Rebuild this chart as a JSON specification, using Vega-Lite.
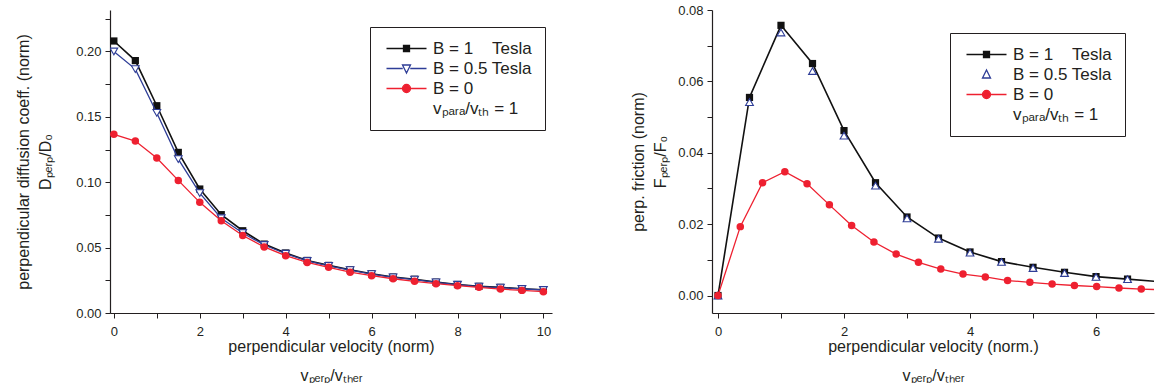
{
  "$schema": "https://vega.github.io/schema/vega-lite/v6.json",
  "padding": {"left": 15, "top": 4, "right": 0, "bottom": 0},
  "background": "white",
  "config": {
    "font": "Liberation Sans",
    "view": {"stroke": null},
    "axis": {"domainColor": "#231f20", "domainWidth": 1.2, "tickColor": "#231f20", "tickWidth": 1, "tickSize": 5, "labelColor": "#231f20", "labelFont": "Liberation Sans", "labelFontSize": 13, "titleFont": "Liberation Sans", "titleFontSize": 16, "titleFontWeight": "normal", "titleColor": "#231f20", "grid": false, "labelFlush": false, "labelOverlap": false, "labelPadding": 4},
    "legend": {"orient": "none", "title": null, "direction": "vertical", "strokeColor": "#231f20", "fillColor": "white", "padding": 13, "symbolSize": 100, "symbolStrokeWidth": 1.3, "symbolOpacity": 1, "labelFont": "Liberation Sans", "labelFontSize": 17, "labelColor": "#231f20", "labelOffset": 33, "labelLimit": 0, "rowPadding": 2}
  },
  "datasets": {
    "left": [
      {"v": 0, "s": "B1", "y": 0.208}, {"v": 0.5, "s": "B1", "y": 0.193}, {"v": 1, "s": "B1", "y": 0.1585}, {"v": 1.5, "s": "B1", "y": 0.1228}, {"v": 2, "s": "B1", "y": 0.0948}, {"v": 2.5, "s": "B1", "y": 0.0752}, {"v": 3, "s": "B1", "y": 0.0629}, {"v": 3.5, "s": "B1", "y": 0.0527}, {"v": 4, "s": "B1", "y": 0.0459}, {"v": 4.5, "s": "B1", "y": 0.0402}, {"v": 5, "s": "B1", "y": 0.0364}, {"v": 5.5, "s": "B1", "y": 0.0331}, {"v": 6, "s": "B1", "y": 0.03}, {"v": 6.5, "s": "B1", "y": 0.0275}, {"v": 7, "s": "B1", "y": 0.0258}, {"v": 7.5, "s": "B1", "y": 0.0236}, {"v": 8, "s": "B1", "y": 0.0218}, {"v": 8.5, "s": "B1", "y": 0.0204}, {"v": 9, "s": "B1", "y": 0.0196}, {"v": 9.5, "s": "B1", "y": 0.0186}, {"v": 10, "s": "B1", "y": 0.0178},
      {"v": 0, "s": "B05", "y": 0.2}, {"v": 0.5, "s": "B05", "y": 0.1865}, {"v": 1, "s": "B05", "y": 0.153}, {"v": 1.5, "s": "B05", "y": 0.1177}, {"v": 2, "s": "B05", "y": 0.0917}, {"v": 2.5, "s": "B05", "y": 0.0725}, {"v": 3, "s": "B05", "y": 0.0612}, {"v": 3.5, "s": "B05", "y": 0.052}, {"v": 4, "s": "B05", "y": 0.0453}, {"v": 4.5, "s": "B05", "y": 0.0398}, {"v": 5, "s": "B05", "y": 0.036}, {"v": 5.5, "s": "B05", "y": 0.0328}, {"v": 6, "s": "B05", "y": 0.0297}, {"v": 6.5, "s": "B05", "y": 0.0273}, {"v": 7, "s": "B05", "y": 0.0255}, {"v": 7.5, "s": "B05", "y": 0.0234}, {"v": 8, "s": "B05", "y": 0.0216}, {"v": 8.5, "s": "B05", "y": 0.0202}, {"v": 9, "s": "B05", "y": 0.0194}, {"v": 9.5, "s": "B05", "y": 0.0184}, {"v": 10, "s": "B05", "y": 0.0176},
      {"v": 0, "s": "B0", "y": 0.1366}, {"v": 0.5, "s": "B0", "y": 0.1315}, {"v": 1, "s": "B0", "y": 0.1185}, {"v": 1.5, "s": "B0", "y": 0.1014}, {"v": 2, "s": "B0", "y": 0.0846}, {"v": 2.5, "s": "B0", "y": 0.0706}, {"v": 3, "s": "B0", "y": 0.0593}, {"v": 3.5, "s": "B0", "y": 0.0505}, {"v": 4, "s": "B0", "y": 0.0438}, {"v": 4.5, "s": "B0", "y": 0.0387}, {"v": 5, "s": "B0", "y": 0.0349}, {"v": 5.5, "s": "B0", "y": 0.0312}, {"v": 6, "s": "B0", "y": 0.0285}, {"v": 6.5, "s": "B0", "y": 0.0262}, {"v": 7, "s": "B0", "y": 0.0242}, {"v": 7.5, "s": "B0", "y": 0.0224}, {"v": 8, "s": "B0", "y": 0.0209}, {"v": 8.5, "s": "B0", "y": 0.0196}, {"v": 9, "s": "B0", "y": 0.0183}, {"v": 9.5, "s": "B0", "y": 0.0173}, {"v": 10, "s": "B0", "y": 0.0163}
    ],
    "right": [
      {"v": 0, "s": "R1", "y": 0}, {"v": 0.5, "s": "R1", "y": 0.0555}, {"v": 1, "s": "R1", "y": 0.0757}, {"v": 1.5, "s": "R1", "y": 0.065}, {"v": 2, "s": "R1", "y": 0.0462}, {"v": 2.5, "s": "R1", "y": 0.0316}, {"v": 3, "s": "R1", "y": 0.022}, {"v": 3.5, "s": "R1", "y": 0.0161}, {"v": 4, "s": "R1", "y": 0.0122}, {"v": 4.5, "s": "R1", "y": 0.0095}, {"v": 5, "s": "R1", "y": 0.0079}, {"v": 5.5, "s": "R1", "y": 0.0065}, {"v": 6, "s": "R1", "y": 0.0053}, {"v": 6.5, "s": "R1", "y": 0.0046}, {"v": 7, "s": "R1", "y": 0.0039},
      {"v": 0, "s": "R05", "y": 0}, {"v": 0.5, "s": "R05", "y": 0.0542}, {"v": 1, "s": "R05", "y": 0.0737}, {"v": 1.5, "s": "R05", "y": 0.0629}, {"v": 2, "s": "R05", "y": 0.0448}, {"v": 2.5, "s": "R05", "y": 0.0308}, {"v": 3, "s": "R05", "y": 0.0216}, {"v": 3.5, "s": "R05", "y": 0.0159}, {"v": 4, "s": "R05", "y": 0.012}, {"v": 4.5, "s": "R05", "y": 0.0094}, {"v": 5, "s": "R05", "y": 0.0077}, {"v": 5.5, "s": "R05", "y": 0.0063}, {"v": 6, "s": "R05", "y": 0.0052}, {"v": 6.5, "s": "R05", "y": 0.0046},
      {"v": 0, "s": "R0", "y": 0}, {"v": 0.354, "s": "R0", "y": 0.0193}, {"v": 0.707, "s": "R0", "y": 0.0316}, {"v": 1.061, "s": "R0", "y": 0.0347}, {"v": 1.414, "s": "R0", "y": 0.0313}, {"v": 1.768, "s": "R0", "y": 0.0254}, {"v": 2.121, "s": "R0", "y": 0.0196}, {"v": 2.475, "s": "R0", "y": 0.015}, {"v": 2.828, "s": "R0", "y": 0.0116}, {"v": 3.182, "s": "R0", "y": 0.0093}, {"v": 3.536, "s": "R0", "y": 0.0074}, {"v": 3.889, "s": "R0", "y": 0.006}, {"v": 4.243, "s": "R0", "y": 0.0052}, {"v": 4.596, "s": "R0", "y": 0.0042}, {"v": 4.95, "s": "R0", "y": 0.0037}, {"v": 5.303, "s": "R0", "y": 0.0032}, {"v": 5.657, "s": "R0", "y": 0.0028}, {"v": 6.01, "s": "R0", "y": 0.0025}, {"v": 6.364, "s": "R0", "y": 0.0021}, {"v": 6.718, "s": "R0", "y": 0.0018}, {"v": 7.071, "s": "R0", "y": 0.0016}
    ]
  },
  "spacing": 67,
  "resolve": {"scale": {"shape": "independent", "fill": "independent", "stroke": "independent"}, "legend": {"shape": "independent", "fill": "independent", "stroke": "independent"}},
  "hconcat": [
    {
      "width": 442,
      "height": 303,
      "data": {"name": "left"},
      "encoding": {
        "x": {"field": "v", "type": "quantitative", "scale": {"domain": [-0.09, 10.2], "nice": false, "zero": false},
          "axis": {"title": ["perpendicular velocity (norm)", "vₚₑᵣₚ/vₜₕₑᵣ"], "values": [0, 1, 2, 3, 4, 5, 6, 7, 8, 9, 10], "format": "d", "labelExpr": "datum.value % 2 == 0 ? datum.label : ''", "labelPadding": 7, "titlePadding": 0, "titleLineHeight": 29}},
        "y": {"field": "y", "type": "quantitative", "scale": {"domain": [0, 0.2317], "nice": false},
          "axis": {"title": ["perpendicular diffusion coeff. (norm)", "Dₚₑᵣₚ/D₀"], "values": [0, 0.025, 0.05, 0.075, 0.1, 0.125, 0.15, 0.175, 0.2, 0.225], "format": ".2f", "labelExpr": "abs(datum.value*20 - round(datum.value*20)) < 0.01 ? datum.label : ''", "titlePadding": 22, "titleLineHeight": 22}}
      },
      "layer": [
        {
          "mark": {"type": "point", "filled": true, "opacity": 0},
          "encoding": {
            "shape": {"field": "s", "type": "nominal", "scale": {"domain": ["B1", "B05", "B0", "vp"], "range": ["M-1,0H7M2.4,-0.6H3.6V0.6H2.4Z", "M-1,0H2.25M3.75,0H7M2.2,-0.7L3.8,-0.7L3,0.9Z", "M-1,0H2.2M3.8,0H7M2.2,0A0.8,0.8 0 1,0 3.8,0A0.8,0.8 0 1,0 2.2,0Z", "M0,0"]},
              "legend": {"legendX": 260, "legendY": 17, "labelExpr": "datum.value == 'B1' ? 'B = 1\u00a0\u00a0\u00a0\u00a0Tesla' : datum.value == 'B05' ? 'B = 0.5 Tesla' : datum.value == 'B0' ? 'B = 0' : 'vₚₐᵣₐ/vₜₕ = 1'"}},
            "fill": {"field": "s", "type": "nominal", "scale": {"domain": ["B1", "B05", "B0", "vp"], "range": ["#111111", "white", "#ee2030", "transparent"]},
              "legend": {"legendX": 260, "legendY": 17, "labelExpr": "datum.value == 'B1' ? 'B = 1\u00a0\u00a0\u00a0\u00a0Tesla' : datum.value == 'B05' ? 'B = 0.5 Tesla' : datum.value == 'B0' ? 'B = 0' : 'vₚₐᵣₐ/vₜₕ = 1'"}},
            "stroke": {"field": "s", "type": "nominal", "scale": {"domain": ["B1", "B05", "B0", "vp"], "range": ["#111111", "#2e3d97", "#ee2030", "transparent"]},
              "legend": {"legendX": 260, "legendY": 17, "labelExpr": "datum.value == 'B1' ? 'B = 1\u00a0\u00a0\u00a0\u00a0Tesla' : datum.value == 'B05' ? 'B = 0.5 Tesla' : datum.value == 'B0' ? 'B = 0' : 'vₚₐᵣₐ/vₜₕ = 1'"}}
          }
        },
        {"transform": [{"filter": "datum.s == 'B1'"}], "mark": {"type": "line", "color": "#111111", "strokeWidth": 1.6, "clip": true}, "encoding": {}},
        {"transform": [{"filter": "datum.s == 'B1'"}], "mark": {"type": "point", "shape": "square", "filled": true, "color": "#111111", "size": 52, "opacity": 1, "clip": true}, "encoding": {}},
        {"transform": [{"filter": "datum.s == 'B05'"}], "mark": {"type": "line", "color": "#2e3d97", "strokeWidth": 1.3, "clip": true}, "encoding": {}},
        {"transform": [{"filter": "datum.s == 'B05'"}], "mark": {"type": "point", "shape": "triangle-down", "filled": false, "fill": "white", "fillOpacity": 1, "stroke": "#2e3d97", "strokeWidth": 1.1, "size": 60, "opacity": 1, "clip": true}, "encoding": {}},
        {"transform": [{"filter": "datum.s == 'B0'"}], "mark": {"type": "line", "color": "#ee2030", "strokeWidth": 1.3, "clip": true}, "encoding": {}},
        {"transform": [{"filter": "datum.s == 'B0'"}], "mark": {"type": "point", "shape": "circle", "filled": true, "color": "#ee2030", "size": 56, "opacity": 1, "clip": true}, "encoding": {}}
      ]
    },
    {
      "width": 442,
      "height": 303,
      "data": {"name": "right"},
      "encoding": {
        "x": {"field": "v", "type": "quantitative", "scale": {"domain": [-0.095, 6.92], "nice": false, "zero": false},
          "axis": {"title": ["perpendicular velocity (norm.)", "vₚₑᵣₚ/vₜₕₑᵣ"], "values": [0, 1, 2, 3, 4, 5, 6], "format": "d", "labelExpr": "datum.value % 2 == 0 ? datum.label : ''", "labelPadding": 7, "titlePadding": 0, "titleLineHeight": 29}},
        "y": {"field": "y", "type": "quantitative", "scale": {"domain": [-0.0049, 0.08], "nice": false, "zero": false},
          "axis": {"title": ["perp. friction (norm)", "Fₚₑᵣₚ/F₀"], "values": [0, 0.01, 0.02, 0.03, 0.04, 0.05, 0.06, 0.07, 0.08], "format": ".2f", "labelExpr": "abs(datum.value*50 - round(datum.value*50)) < 0.01 ? datum.label : ''", "titlePadding": 9, "titleLineHeight": 22}}
      },
      "layer": [
        {
          "mark": {"type": "point", "filled": true, "opacity": 0},
          "encoding": {
            "shape": {"field": "s", "type": "nominal", "scale": {"domain": ["R1", "R05", "R0", "Rv"], "range": ["M-1,0H7M2.4,-0.6H3.6V0.6H2.4Z", "M2.2,0.7L3.8,0.7L3,-0.9Z", "M-1,0H2.2M3.8,0H7M2.2,0A0.8,0.8 0 1,0 3.8,0A0.8,0.8 0 1,0 2.2,0Z", "M0,0"]},
              "legend": {"legendX": 238, "legendY": 23, "labelExpr": "datum.value == 'R1' ? 'B = 1\u00a0\u00a0\u00a0\u00a0Tesla' : datum.value == 'R05' ? 'B = 0.5 Tesla' : datum.value == 'R0' ? 'B = 0' : 'vₚₐᵣₐ/vₜₕ = 1'"}},
            "fill": {"field": "s", "type": "nominal", "scale": {"domain": ["R1", "R05", "R0", "Rv"], "range": ["#111111", "white", "#ee2030", "transparent"]},
              "legend": {"legendX": 238, "legendY": 23, "labelExpr": "datum.value == 'R1' ? 'B = 1\u00a0\u00a0\u00a0\u00a0Tesla' : datum.value == 'R05' ? 'B = 0.5 Tesla' : datum.value == 'R0' ? 'B = 0' : 'vₚₐᵣₐ/vₜₕ = 1'"}},
            "stroke": {"field": "s", "type": "nominal", "scale": {"domain": ["R1", "R05", "R0", "Rv"], "range": ["#111111", "#2e3d97", "#ee2030", "transparent"]},
              "legend": {"legendX": 238, "legendY": 23, "labelExpr": "datum.value == 'R1' ? 'B = 1\u00a0\u00a0\u00a0\u00a0Tesla' : datum.value == 'R05' ? 'B = 0.5 Tesla' : datum.value == 'R0' ? 'B = 0' : 'vₚₐᵣₐ/vₜₕ = 1'"}}
          }
        },
        {"transform": [{"filter": "datum.s == 'R1'"}], "mark": {"type": "line", "color": "#111111", "strokeWidth": 1.6, "clip": true}, "encoding": {}},
        {"transform": [{"filter": "datum.s == 'R1'"}], "mark": {"type": "point", "shape": "square", "filled": true, "color": "#111111", "size": 52, "opacity": 1, "clip": true}, "encoding": {}},
        {"transform": [{"filter": "datum.s == 'R05'"}], "mark": {"type": "point", "shape": "triangle-up", "filled": false, "fill": "white", "fillOpacity": 1, "stroke": "#2e3d97", "strokeWidth": 1.1, "size": 60, "opacity": 1, "clip": true}, "encoding": {}},
        {"transform": [{"filter": "datum.s == 'R0'"}], "mark": {"type": "line", "color": "#ee2030", "strokeWidth": 1.3, "clip": true}, "encoding": {}},
        {"transform": [{"filter": "datum.s == 'R0'"}], "mark": {"type": "point", "shape": "circle", "filled": true, "color": "#ee2030", "size": 56, "opacity": 1, "clip": true}, "encoding": {}}
      ]
    }
  ]
}
